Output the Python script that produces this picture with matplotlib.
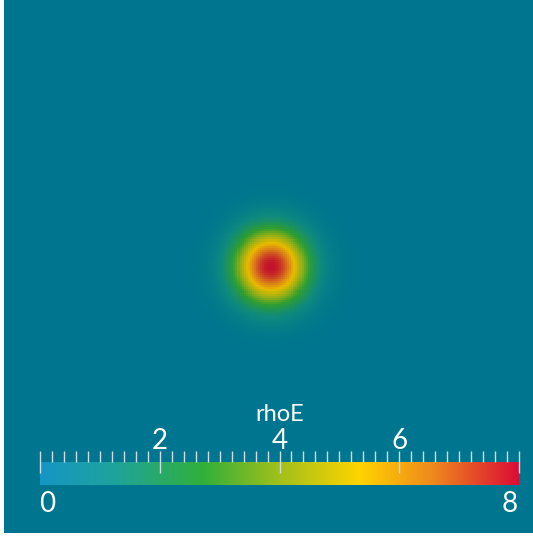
import numpy as np
import matplotlib
matplotlib.use("Agg")
import matplotlib.pyplot as plt
from matplotlib.colors import LinearSegmentedColormap, Normalize

# ---- data ----
field_name = "rhoE"
value_range = [0.0, 8.0]
major_ticks = [2, 4, 6]
end_labels = ["0", "8"]
minor_step = 0.2
# bump parameters (domain units 0..1)
peak_value = 8.0
center_xy = [0.505, 0.500]
bump_width = 0.070
bump_power = 2.0
grid_n = 256

# colormap (legend) and its shaded rendering on the surface
cmap_pos = [0.0, 0.15, 0.34, 0.5, 0.667, 0.82, 1.0]
cmap_cols = ["#1596c4", "#1ea39e", "#31b03a", "#a0c01c", "#ffd400", "#ef8a1c", "#dc0c35"]
shade_cols = ["#00758f", "#0f8a7e", "#2e9e32", "#93b018", "#e8bc00", "#d87a18", "#c2122c"]
bg_color = "#00758f"

cmap = LinearSegmentedColormap.from_list("rb", list(zip(cmap_pos, cmap_cols)))
cmap_shade = LinearSegmentedColormap.from_list("rbs", list(zip(cmap_pos, shade_cols)))
norm = Normalize(*value_range)

W, H = 533, 537
fig = plt.figure(figsize=(W / 100, H / 100), dpi=100)
fig.patch.set_facecolor("white")

# main render area
ax = fig.add_axes([4 / W, 4 / H, 529 / W, 533 / H])
ax.set_facecolor(bg_color)
xs = (np.arange(grid_n) + 0.5) / grid_n
X, Y = np.meshgrid(xs, xs)
R = np.hypot(X - center_xy[0], Y - center_xy[1])
V = peak_value * np.exp(-(R / bump_width) ** bump_power)
ax.imshow(V, cmap=cmap_shade, norm=norm, origin="lower", extent=[0, 1, 0, 1],
          interpolation="nearest", aspect="auto")
ax.set_xlim(0, 1)
ax.set_ylim(0, 1)
ax.axis("off")

# colorbar
bx0, bx1 = 40, 519
by_top, by_bot = 462, 485
cax = fig.add_axes([bx0 / W, 1 - by_bot / H, (bx1 - bx0) / W, (by_bot - by_top) / H])
grad = np.linspace(value_range[0], value_range[1], 512).reshape(1, -1)
cax.imshow(grad, cmap=cmap, norm=norm, extent=[value_range[0], value_range[1], 0, 1],
           aspect="auto", interpolation="bilinear")
cax.set_xlim(value_range[0], value_range[1])
cax.set_ylim(0, 1)
cax.axis("off")

bar_h = by_bot - by_top
minor_top = 1 + 11 / bar_h
major_bot = 1 - 11 / bar_h
tick_col = "#d0dce2"
n_minor = int(round((value_range[1] - value_range[0]) / minor_step))
for i in range(n_minor + 1):
    v = value_range[0] + i * minor_step
    is_major = any(abs(v - m) < 1e-6 for m in major_ticks) or i == 0 or i == n_minor
    y0 = major_bot if is_major else 1
    cax.plot([v, v], [y0, minor_top], color=tick_col, lw=1.0, clip_on=False,
             solid_capstyle="butt")

font = dict(family=["Lato", "DejaVu Sans"], color="white", fontweight="normal")
px_per_unit = (bx1 - bx0) / (value_range[1] - value_range[0])
for m in major_ticks:
    xp = bx0 + m * px_per_unit
    fig.text(xp / W, 1 - 449 / H, str(m), ha="center", va="baseline", fontsize=20, **font)
fig.text((bx0 - 1) / W, 1 - 512 / H, end_labels[0], ha="left", va="baseline", fontsize=20, **font)
fig.text((bx1 - 1) / W, 1 - 512 / H, end_labels[1], ha="right", va="baseline", fontsize=20, **font)
fig.text((bx0 + bx1) / 2 / W, 1 - 421 / H, field_name, ha="center", va="baseline",
         fontsize=17, **font)

fig.savefig("out.png", dpi=100, facecolor="white")
